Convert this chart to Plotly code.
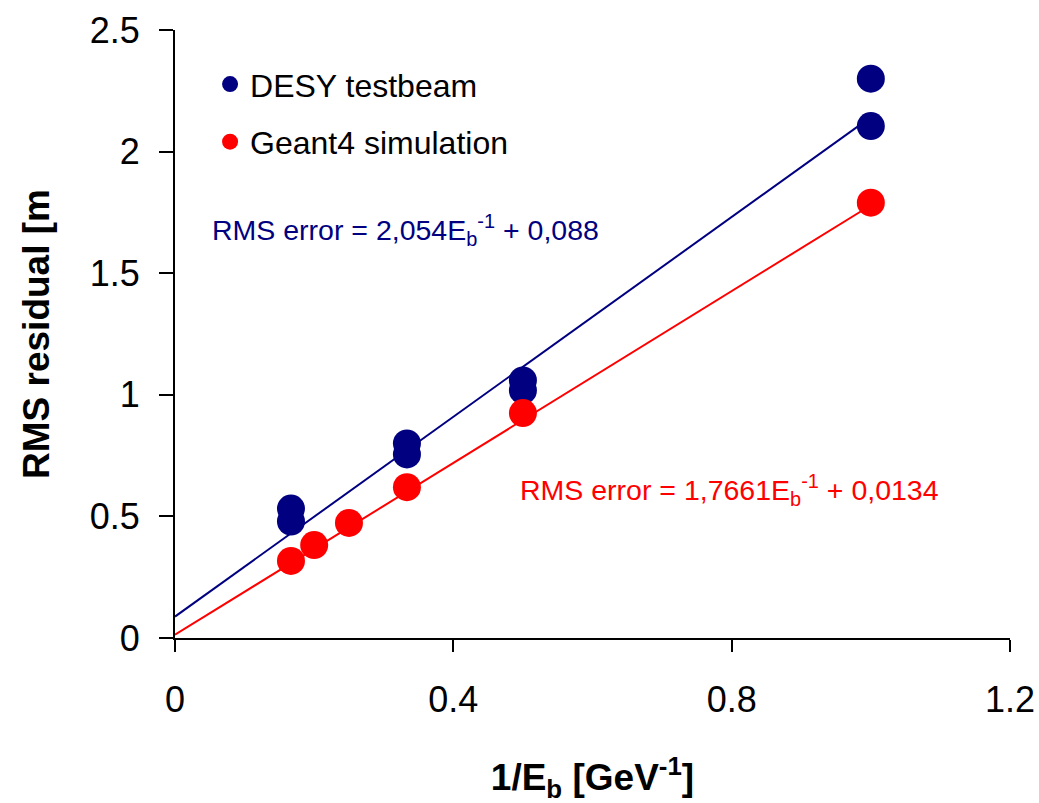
import plotly.graph_objects as go

# Data
desy_x = [1/6, 1/6, 1/3, 1/3, 0.5, 0.5, 1.0, 1.0]
desy_y = [0.532, 0.479, 0.80, 0.755, 1.059, 1.018, 2.30, 2.105]

g4_x = [1/6, 0.2, 0.25, 1/3, 0.5, 1.0]
g4_y = [0.317, 0.382, 0.473, 0.62, 0.925, 1.79]

# Fit lines (from annotated equations)
desy_fit = [2.054, 0.088]     # slope, intercept
g4_fit = [1.7661, 0.0134]
fit_x = [0.0, 1.0]

x_ticks = [0, 0.4, 0.8, 1.2]
x_ticktext = ["0", "0.4", "0.8", "1.2"]
y_ticks = [0, 0.5, 1, 1.5, 2, 2.5]
y_ticktext = ["0", "0.5", "1", "1.5", "2", "2.5"]

BLUE = "#000080"
RED = "#FF0000"
FONT = "Liberation Sans, Arial, sans-serif"

fig = go.Figure()

fig.add_trace(go.Scatter(x=fit_x, y=[desy_fit[0]*v + desy_fit[1] for v in fit_x],
                         mode="lines", line=dict(color=BLUE, width=2),
                         showlegend=False, hoverinfo="skip"))
fig.add_trace(go.Scatter(x=fit_x, y=[g4_fit[0]*v + g4_fit[1] for v in fit_x],
                         mode="lines", line=dict(color=RED, width=2),
                         showlegend=False, hoverinfo="skip"))
fig.add_trace(go.Scatter(x=desy_x, y=desy_y, mode="markers", name="DESY testbeam",
                         legendgroup="a",
                         marker=dict(color=BLUE, size=28, symbol="circle")))
fig.add_trace(go.Scatter(x=g4_x, y=g4_y, mode="markers", name="Geant4 simulation",
                         legendgroup="b",
                         marker=dict(color=RED, size=28, symbol="circle")))

fig.add_annotation(x=0.05, y=1.678, xref="x", yref="y", xanchor="left", yanchor="middle",
                   text="RMS error = 2,054E<sub>b</sub><sup>-1</sup> + 0,088",
                   showarrow=False, font=dict(family=FONT, size=28.5, color=BLUE))
fig.add_annotation(x=0.493, y=0.609, xref="x", yref="y", xanchor="left", yanchor="middle",
                   text="RMS error = 1,7661E<sub>b</sub><sup>-1</sup> + 0,0134",
                   showarrow=False, font=dict(family=FONT, size=28.5, color=RED))

fig.update_layout(
    width=1039, height=803,
    margin=dict(l=175, r=29, t=30, b=165, autoexpand=False),
    paper_bgcolor="white", plot_bgcolor="white",
    font=dict(family=FONT, color="black"),
    showlegend=True,
    legend=dict(x=0.042, y=0.956, xanchor="left", yanchor="top",
                font=dict(family=FONT, size=32, color="black"),
                bgcolor="rgba(0,0,0,0)", tracegroupgap=13),
    xaxis=dict(range=[0, 1.2], tickvals=x_ticks, ticktext=x_ticktext,
               showline=True, linecolor="black", linewidth=2, automargin=False,
               ticks="outside", ticklen=12, tickwidth=2, tickcolor="black",
               showgrid=False, zeroline=False, ticklabelstandoff=17,
               tickfont=dict(family=FONT, size=36, color="black"),
               title=dict(text="<b>1/E<sub>b</sub> [GeV<sup>-1</sup>]</b>",
                          font=dict(family=FONT, size=37, color="black"), standoff=45)),
    yaxis=dict(range=[0, 2.5], tickvals=y_ticks, ticktext=y_ticktext,
               showline=True, linecolor="black", linewidth=2, automargin=False,
               ticks="outside", ticklen=14, tickwidth=2, tickcolor="black",
               showgrid=False, zeroline=False, ticklabelstandoff=12,
               tickfont=dict(family=FONT, size=36, color="black"),
               title=dict(text="<b>RMS residual [m</b>",
                          font=dict(family=FONT, size=37, color="black"), standoff=29)),
)

fig.write_html("out.html")
